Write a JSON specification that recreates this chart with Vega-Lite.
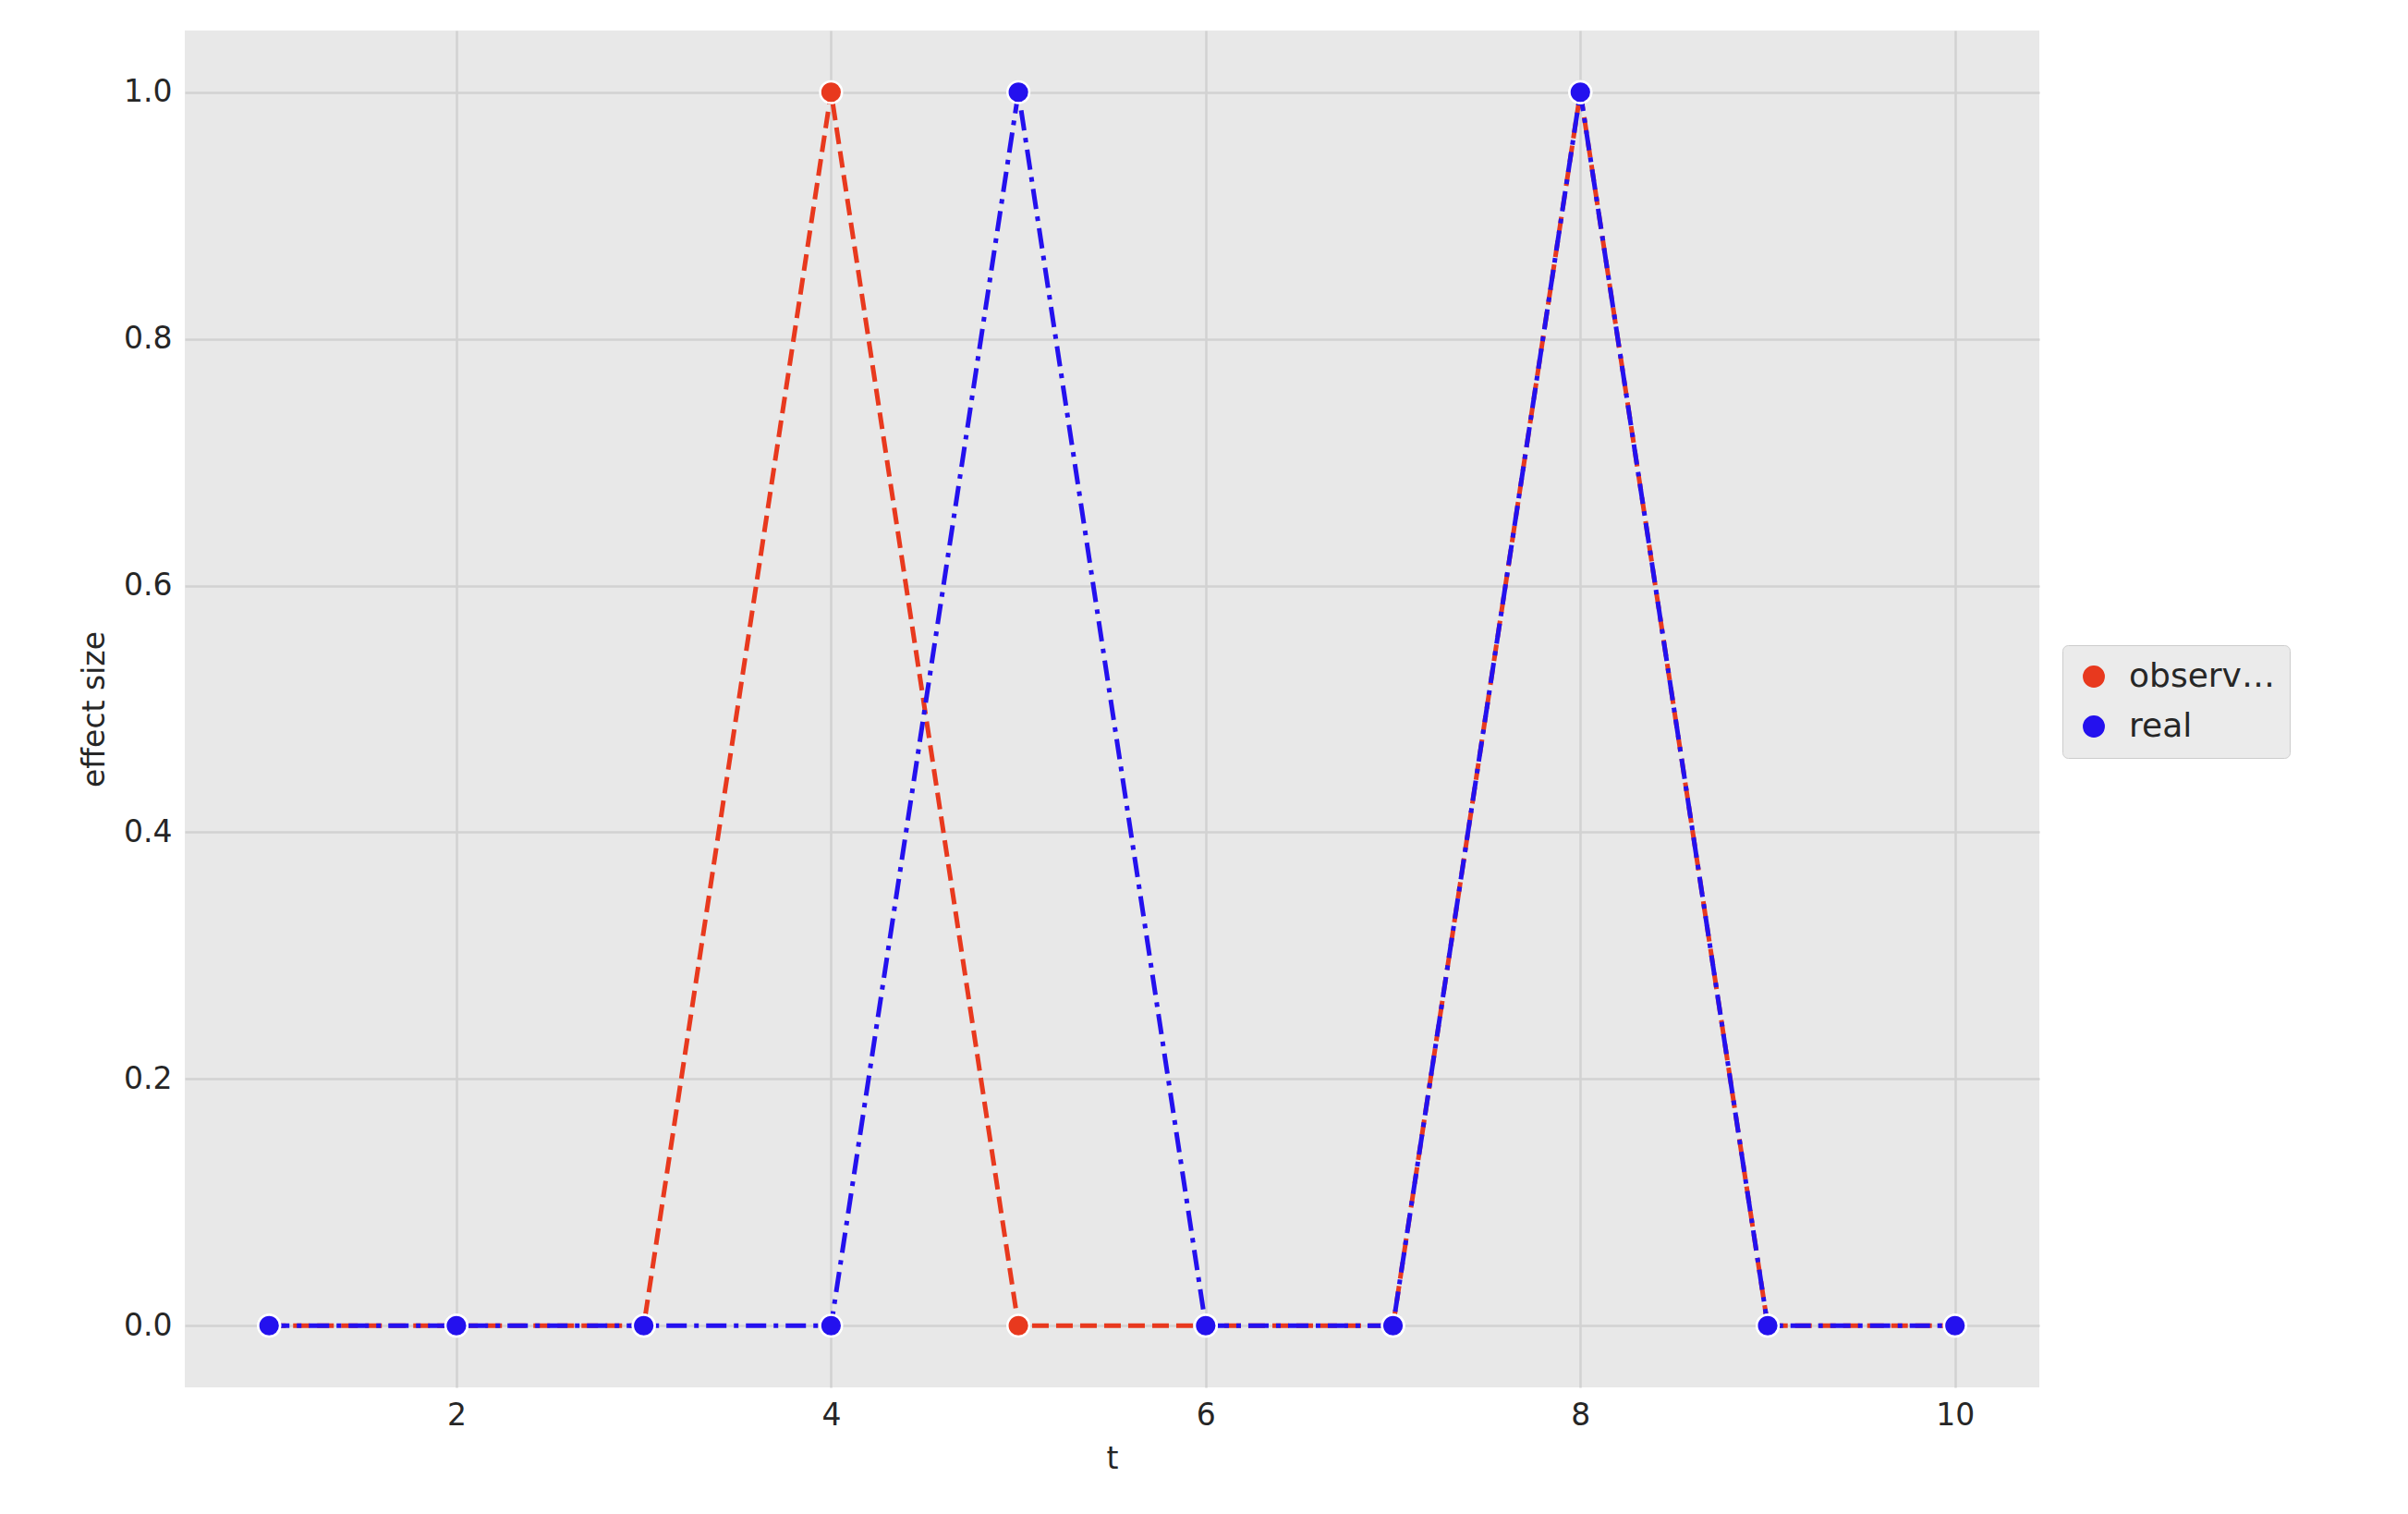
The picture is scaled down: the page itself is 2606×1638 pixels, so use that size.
{
  "$schema": "https://vega.github.io/schema/vega-lite/v6.json",
  "autosize": {"type": "none"},
  "padding": {"left": 200, "top": 33, "right": 399, "bottom": 137},
  "width": 2007,
  "height": 1468,
  "background": "white",
  "config": {
    "view": {"fill": "#E8E8E8", "stroke": null},
    "font": "DejaVu Sans",
    "axis": {
      "domain": false, "ticks": false, "grid": true, "gridColor": "#D2D2D2", "gridWidth": 2.5,
      "labelFontSize": 33, "titleFontSize": 33, "labelColor": "#262626", "titleColor": "#262626",
      "labelFontWeight": "normal", "titleFontWeight": "normal", "labelPadding": 14, "titlePadding": 14
    }
  },
  "data": {
    "values": [
      {"t": 1, "v": 0, "s": "observed"}, {"t": 2, "v": 0, "s": "observed"}, {"t": 3, "v": 0, "s": "observed"},
      {"t": 4, "v": 1, "s": "observed"}, {"t": 5, "v": 0, "s": "observed"}, {"t": 6, "v": 0, "s": "observed"},
      {"t": 7, "v": 0, "s": "observed"}, {"t": 8, "v": 1, "s": "observed"}, {"t": 9, "v": 0, "s": "observed"},
      {"t": 10, "v": 0, "s": "observed"},
      {"t": 1, "v": 0, "s": "real"}, {"t": 2, "v": 0, "s": "real"}, {"t": 3, "v": 0, "s": "real"},
      {"t": 4, "v": 0, "s": "real"}, {"t": 5, "v": 1, "s": "real"}, {"t": 6, "v": 0, "s": "real"},
      {"t": 7, "v": 0, "s": "real"}, {"t": 8, "v": 1, "s": "real"}, {"t": 9, "v": 0, "s": "real"},
      {"t": 10, "v": 0, "s": "real"}
    ]
  },
  "encoding": {
    "x": {"field": "t", "type": "quantitative", "title": "t",
      "scale": {"domain": [0.55, 10.45], "nice": false, "zero": false},
      "axis": {"values": [2, 4, 6, 8, 10]}},
    "y": {"field": "v", "type": "quantitative", "title": "effect size",
      "scale": {"domain": [-0.05, 1.05], "nice": false, "zero": false},
      "axis": {"values": [0, 0.2, 0.4, 0.6, 0.8, 1.0], "format": ".1f"}},
    "color": {"field": "s", "type": "nominal", "title": null,
      "scale": {"domain": ["observed", "real"], "range": ["#E8391E", "#2411EE"]}}
  },
  "layer": [
    {"transform": [{"filter": "datum.s == 'observed'"}],
     "mark": {"type": "line", "strokeWidth": 5, "strokeDash": [18, 8]}},
    {"transform": [{"filter": "datum.s == 'real'"}],
     "mark": {"type": "line", "strokeWidth": 5, "strokeDash": [22, 8, 5, 8]}},
    {"mark": {"type": "point", "filled": true, "size": 560, "stroke": "white", "strokeWidth": 2.5, "opacity": 1},
     "encoding": {
       "order": {"field": "s", "sort": "ascending"},
       "color": {"field": "s", "type": "nominal", "title": null,
         "scale": {"domain": ["observed", "real"], "range": ["#E8391E", "#2411EE"]},
         "legend": {"orient": "none", "legendX": 2032, "legendY": 665, "labelFontSize": 36,
           "labelColor": "#262626", "symbolType": "circle", "symbolSize": 500, "rowPadding": 18,
           "fillColor": "#EBEBEB", "strokeColor": "#CCCCCC", "padding": 16, "cornerRadius": 6,
           "labelOffset": 20}}
     }}
  ]
}
